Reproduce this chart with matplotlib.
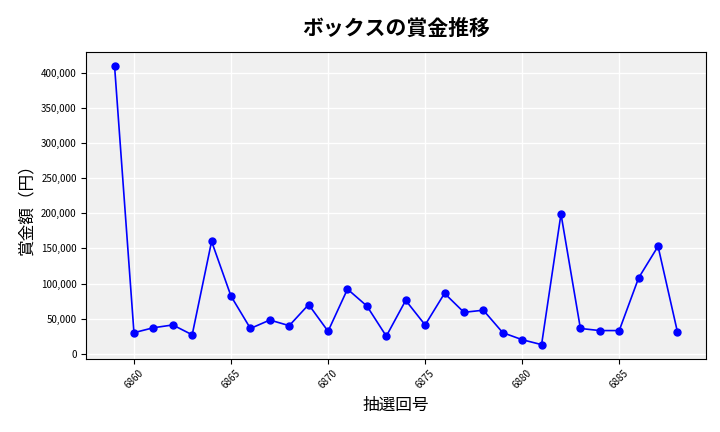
import matplotlib.pyplot as plt
from matplotlib.ticker import FuncFormatter

plt.rcParams['font.family'] = ['Noto Sans CJK JP', 'DejaVu Sans']

draws = list(range(6859, 6889))
prizes = [410000, 30000, 37000, 41000, 27000, 160000, 82000, 36000, 48000, 40000,
          70000, 32000, 92000, 68000, 25000, 76000, 41000, 86000, 59000, 62000,
          30000, 20000, 13000, 199000, 36000, 33000, 33000, 108000, 153000, 31000]

fig, ax = plt.subplots(figsize=(7.2, 4.32), dpi=100)
ax.set_facecolor('#f0f0f0')
ax.grid(True, color='white', linewidth=1)
ax.set_axisbelow(True)
ax.plot(draws, prizes, color='blue', marker='o', markersize=5, linewidth=1.2)
ax.set_title('ボックスの賞金推移', fontsize=15, fontweight='bold', pad=12)
ax.set_xlabel('抽選回号', fontsize=12)
ax.set_ylabel('賞金額（円）', fontsize=12)
ax.yaxis.set_major_formatter(FuncFormatter(lambda v, p: f'{int(v):,}'))
ax.set_xticks([6860, 6865, 6870, 6875, 6880, 6885])
ax.tick_params(axis='x', labelrotation=45, labelsize=7)
ax.tick_params(axis='y', labelsize=7)
fig.subplots_adjust(left=0.12, right=0.98, top=0.88, bottom=0.17)
fig.savefig('out.png')
